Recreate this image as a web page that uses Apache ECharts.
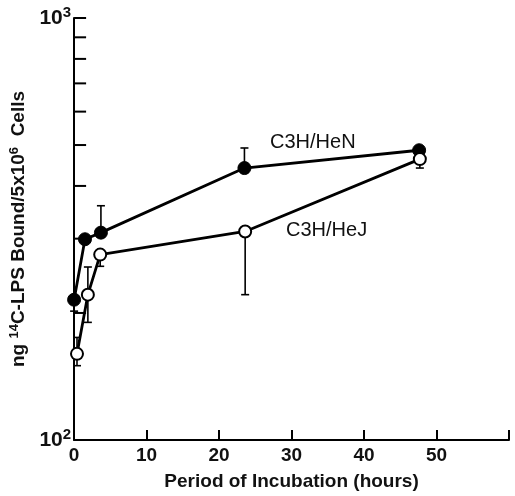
<!DOCTYPE html>
<html>
<head>
<meta charset="UTF-8">
<title>LPS binding</title>
<script src="https://cdn.jsdelivr.net/npm/echarts@6/dist/echarts.min.js"></script>
<style>
  html, body { margin: 0; padding: 0; background: #fff; }
  #main { width: 515px; height: 496px; }
</style>
</head>
<body>
<div id="main"></div>
<script>
// hours of incubation, ng bound; error bar ends
var henX    = [0, 1.5, 3.7, 23.5, 47.6];
var henY    = [215, 299, 310, 441, 486];
var henLow  = [202, 299, 310, 441, 486];
var henHigh = [215, 299, 359, 492, 486];

var hejX    = [0.4, 1.9, 3.6, 23.6, 47.7];
var hejY    = [160, 221, 275, 312, 463];
var hejLow  = [150, 190, 258, 221, 441];
var hejHigh = [175, 257, 275, 312, 463];

var xTicks = [0, 10, 20, 30, 40, 50];
var minorY = [200, 300, 400, 500, 600, 700, 800, 900];

var font = 'Liberation Sans';

function pts(xs, ys) {
  return xs.map(function (x, i) { return [x, ys[i]]; });
}
function errs(xs, lo, hi) {
  return xs.map(function (x, i) { return [x, lo[i], hi[i]]; });
}

function errorBar(params, api) {
  var x = api.value(0);
  var lo = api.coord([x, api.value(1)]);
  var hi = api.coord([x, api.value(2)]);
  var st = { stroke: '#000', lineWidth: 1.6 };
  if (Math.abs(lo[1] - hi[1]) < 1) return null;
  var kids = [{ type: 'line', shape: { x1: lo[0], y1: lo[1], x2: hi[0], y2: hi[1] }, style: st }];
  [lo, hi].forEach(function (p) {
    kids.push({ type: 'line', shape: { x1: p[0] - 4, y1: p[1], x2: p[0] + 4, y2: p[1] }, style: st });
  });
  return { type: 'group', children: kids };
}

var myChart = echarts.init(document.getElementById('main'));
var option = {
  animation: false,
  grid: { left: 73, right: 6, top: 18, bottom: 53 },
  xAxis: {
    type: 'value', min: 0, max: 60, interval: 10,
    name: 'Period of Incubation (hours)',
    nameLocation: 'middle', nameGap: 32,
    nameTextStyle: { fontFamily: font, fontSize: 19, fontWeight: 'bold', color: '#111' },
    axisLine: { lineStyle: { color: '#000', width: 2 } },
    axisTick: { inside: true, length: 10, lineStyle: { color: '#000', width: 2 } },
    axisLabel: {
      margin: 6, fontFamily: font, fontSize: 19, fontWeight: 'bold', color: '#111',
      formatter: function (v) { return xTicks.indexOf(v) >= 0 ? String(v) : ''; }
    },
    splitLine: { show: false }
  },
  yAxis: {
    type: 'log', logBase: 10, min: 100, max: 1000,
    name: '{n|ng }{s|14}{n|C-LPS Bound/5x10}{s|6}{n|  Cells}',
    nameLocation: 'middle', nameGap: 40, nameRotate: 90,
    nameTextStyle: {
      rich: {
        n: { fontFamily: font, fontSize: 19, fontWeight: 'bold', color: '#111' },
        s: { fontFamily: font, fontSize: 13, fontWeight: 'bold', color: '#111', verticalAlign: 'top', padding: [0, 0, 9, 0] }
      }
    },
    axisLine: { show: true, lineStyle: { color: '#000', width: 2 } },
    axisTick: { inside: true, length: 12, lineStyle: { color: '#000', width: 2 } },
    axisLabel: {
      margin: 3,
      formatter: function (v) {
        return v === 1000 ? '{b|10}{s|3}' : '{b|10}{s|2}';
      },
      rich: {
        b: { fontFamily: font, fontSize: 21, fontWeight: 'bold', color: '#111' },
        s: { fontFamily: font, fontSize: 15, fontWeight: 'bold', color: '#111', verticalAlign: 'top', padding: [0, 0, 11, 0] }
      }
    },
    splitLine: { show: false }
  },
  series: [
    {
      type: 'custom', z: 2, silent: true,
      data: minorY.map(function (v) { return [0, v]; }),
      renderItem: function (params, api) {
        var p = api.coord([0, api.value(1)]);
        return { type: 'line', shape: { x1: p[0], y1: p[1], x2: p[0] + 12, y2: p[1] },
                 style: { stroke: '#000', lineWidth: 2 } };
      }
    },
    { type: 'custom', z: 3, data: errs(henX, henLow, henHigh), renderItem: errorBar },
    { type: 'custom', z: 3, data: errs(hejX, hejLow, hejHigh), renderItem: errorBar },
    {
      name: 'C3H/HeN', type: 'line', z: 5, data: pts(henX, henY),
      symbol: 'circle', symbolSize: 13,
      lineStyle: { color: '#000', width: 2.8 },
      itemStyle: { color: '#000', borderColor: '#000', borderWidth: 1 }
    },
    {
      name: 'C3H/HeJ', type: 'line', z: 5, data: pts(hejX, hejY),
      symbol: 'circle', symbolSize: 12,
      lineStyle: { color: '#000', width: 2.8 },
      itemStyle: { color: '#fff', borderColor: '#000', borderWidth: 2 }
    }
  ],
  graphic: [
    { type: 'text', left: 270, top: 132, style: { text: 'C3H/HeN', fontFamily: font, fontSize: 20, fill: '#111' } },
    { type: 'text', left: 286, top: 220, style: { text: 'C3H/HeJ', fontFamily: font, fontSize: 20, fill: '#111' } }
  ]
};
myChart.setOption(option);
</script>
</body>
</html>
